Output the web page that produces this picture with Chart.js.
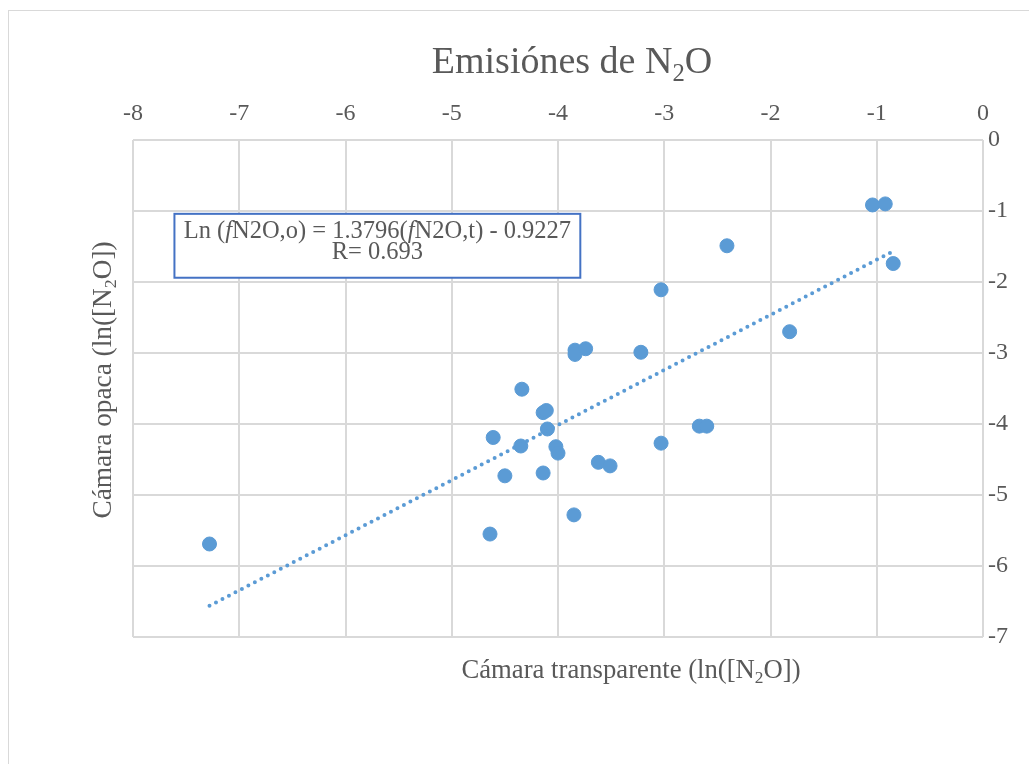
<!DOCTYPE html>
<html>
<head>
<meta charset="utf-8">
<title>Emisiónes de N2O</title>
<script src="https://cdn.jsdelivr.net/npm/chart.js@4"></script>
<style>
    body {
        margin: 0;
        background: #ffffff;
    }
    #chart {
        display: block;
    }
</style>
</head>
<body>

<canvas id="chart" width="1029" height="764"></canvas>

<script>
// Cámara transparente (x) vs Cámara opaca (y), ln([N2O])
const xVals = [-7.28, -4.64, -3.85, -4.50, -4.14, -3.62, -3.51, -4.61, -4.35, -4.02,
               -4.00, -4.10, -4.14, -4.11, -4.34, -3.03, -2.67, -2.60, -3.84, -3.84,
               -3.74, -3.22, -3.03, -2.41, -1.82, -1.04, -0.92, -0.845];
const yVals = [-5.69, -5.55, -5.28, -4.73, -4.69, -4.54, -4.59, -4.19, -4.31, -4.32,
               -4.41, -4.07, -3.84, -3.81, -3.51, -4.27, -4.03, -4.03, -2.96, -3.02,
               -2.94, -2.99, -2.11, -1.49, -2.70, -0.915, -0.90, -1.74];

// linea de tendencia (extremos)
const trendX = [-7.28, -0.85];
const trendY = [-6.56, -1.57];

const xTicks = [-8, -7, -6, -5, -4, -3, -2, -1, 0];
const yTicks = [0, -1, -2, -3, -4, -5, -6, -7];

const eqLine1 = [
    { t: 'Ln (' }, { t: 'f', it: true }, { t: 'N2O,o) = 1.3796(' },
    { t: 'f', it: true }, { t: 'N2O,t) - 0.9227' }
];
const eqLine2 = [{ t: 'R= 0.693' }];

const SERIF = "'Liberation Serif', 'Times New Roman', serif";
const GREY = '#595959';
const BLUE = '#5B9BD5';

// caja de la ecuacion, en coordenadas de datos
const eqBox = { x0: -7.61, x1: -3.79, y0: -1.04, y1: -1.94 };

function fontOf(size, it) {
    return (it ? 'italic ' : '') + size + 'px ' + SERIF;
}

// texto con subindices, centrado en x
function drawRich(ctx, segs, x, y, size) {
    let total = 0;
    segs.forEach(s => {
        ctx.font = fontOf(s.sub ? size * 0.65 : size, s.it);
        s.w = ctx.measureText(s.t).width;
        total += s.w;
    });
    let cx = x - total / 2;
    segs.forEach(s => {
        ctx.font = fontOf(s.sub ? size * 0.65 : size, s.it);
        ctx.fillText(s.t, cx, s.sub ? y + size * 0.2 : y);
        cx += s.w;
    });
}

const textPlugin = {
    id: 'textPlugin',
    beforeDraw(chart) {
        const ctx = chart.ctx;
        ctx.save();
        ctx.fillStyle = '#ffffff';
        ctx.fillRect(0, 0, chart.width, chart.height);
        ctx.strokeStyle = '#d9d9d9';
        ctx.lineWidth = 1;
        ctx.strokeRect(8.5, 10.5, 1100, 900);
        ctx.restore();
    },
    afterDraw(chart) {
        const ctx = chart.ctx;
        const xs = chart.scales.x, ys = chart.scales.y;
        ctx.save();
        ctx.fillStyle = GREY;
        ctx.textBaseline = 'alphabetic';
        ctx.textAlign = 'left';

        // titulo
        drawRich(ctx, [{ t: 'Emisiónes de N' }, { t: '2', sub: true }, { t: 'O' }], 572, 73, 38);

        // titulo eje x
        drawRich(ctx, [{ t: 'Cámara transparente (ln([N' }, { t: '2', sub: true }, { t: 'O])' }], 631, 678, 26.7);

        // titulo eje y
        ctx.save();
        ctx.translate(111, 380);
        ctx.rotate(-Math.PI / 2);
        drawRich(ctx, [{ t: 'Cámara opaca (ln([N' }, { t: '2', sub: true }, { t: 'O])' }], 0, 0, 27.3);
        ctx.restore();

        // caja de la ecuacion
        const bx0 = xs.getPixelForValue(eqBox.x0), bx1 = xs.getPixelForValue(eqBox.x1);
        const by0 = ys.getPixelForValue(eqBox.y0), by1 = ys.getPixelForValue(eqBox.y1);
        ctx.fillStyle = '#ffffff';
        ctx.fillRect(bx0, by0, bx1 - bx0, by1 - by0);
        ctx.strokeStyle = '#4472C4';
        ctx.lineWidth = 2;
        ctx.strokeRect(bx0, by0, bx1 - bx0, by1 - by0);
        ctx.fillStyle = GREY;
        const mid = (bx0 + bx1) / 2;
        drawRich(ctx, eqLine1, mid, by0 + 24, 24.5);
        drawRich(ctx, eqLine2, mid, by0 + 45, 24.5);
        ctx.restore();
    }
};

const ctx = document.getElementById('chart').getContext('2d');
const chart = new Chart(ctx, {
    type: 'scatter',
    data: {
        datasets: [
            {
                label: 'Tendencia',
                type: 'line',
                data: trendX.map((x, i) => ({ x: x, y: trendY[i] })),
                borderColor: BLUE,
                borderWidth: 4,
                borderDash: [0, 7.3],
                borderCapStyle: 'round',
                pointRadius: 0,
                fill: false
            },
            {
                label: 'N2O',
                data: xVals.map((x, i) => ({ x: x, y: yVals[i] })),
                backgroundColor: BLUE,
                borderColor: BLUE,
                borderWidth: 1,
                pointRadius: 7
            }
        ]
    },
    options: {
        responsive: false,
        animation: false,
        devicePixelRatio: 1,
        layout: {
            padding: { left: 133, right: 0, top: 0, bottom: 127 }
        },
        plugins: {
            legend: { display: false },
            tooltip: { enabled: false },
            title: { display: false }
        },
        scales: {
            x: {
                type: 'linear',
                position: 'top',
                min: -8,
                max: 0,
                afterBuildTicks: s => { s.ticks = xTicks.map(v => ({ value: v })); },
                afterFit: s => { s.height = 140; },
                grid: { color: '#d9d9d9', lineWidth: 2, drawTicks: false },
                border: { display: false },
                ticks: {
                    color: GREY,
                    font: { family: SERIF, size: 24 },
                    padding: 12,
                    maxRotation: 0,
                    autoSkip: false
                }
            },
            y: {
                type: 'linear',
                position: 'right',
                min: -7,
                max: 0,
                afterBuildTicks: s => { s.ticks = yTicks.map(v => ({ value: v })); },
                afterFit: s => { s.width = 46; },
                grid: { color: '#d9d9d9', lineWidth: 2, drawTicks: false },
                border: { display: false },
                ticks: {
                    color: GREY,
                    font: { family: SERIF, size: 24 },
                    padding: 5,
                    autoSkip: false
                }
            }
        }
    },
    plugins: [textPlugin]
});
</script>

</body>
</html>
